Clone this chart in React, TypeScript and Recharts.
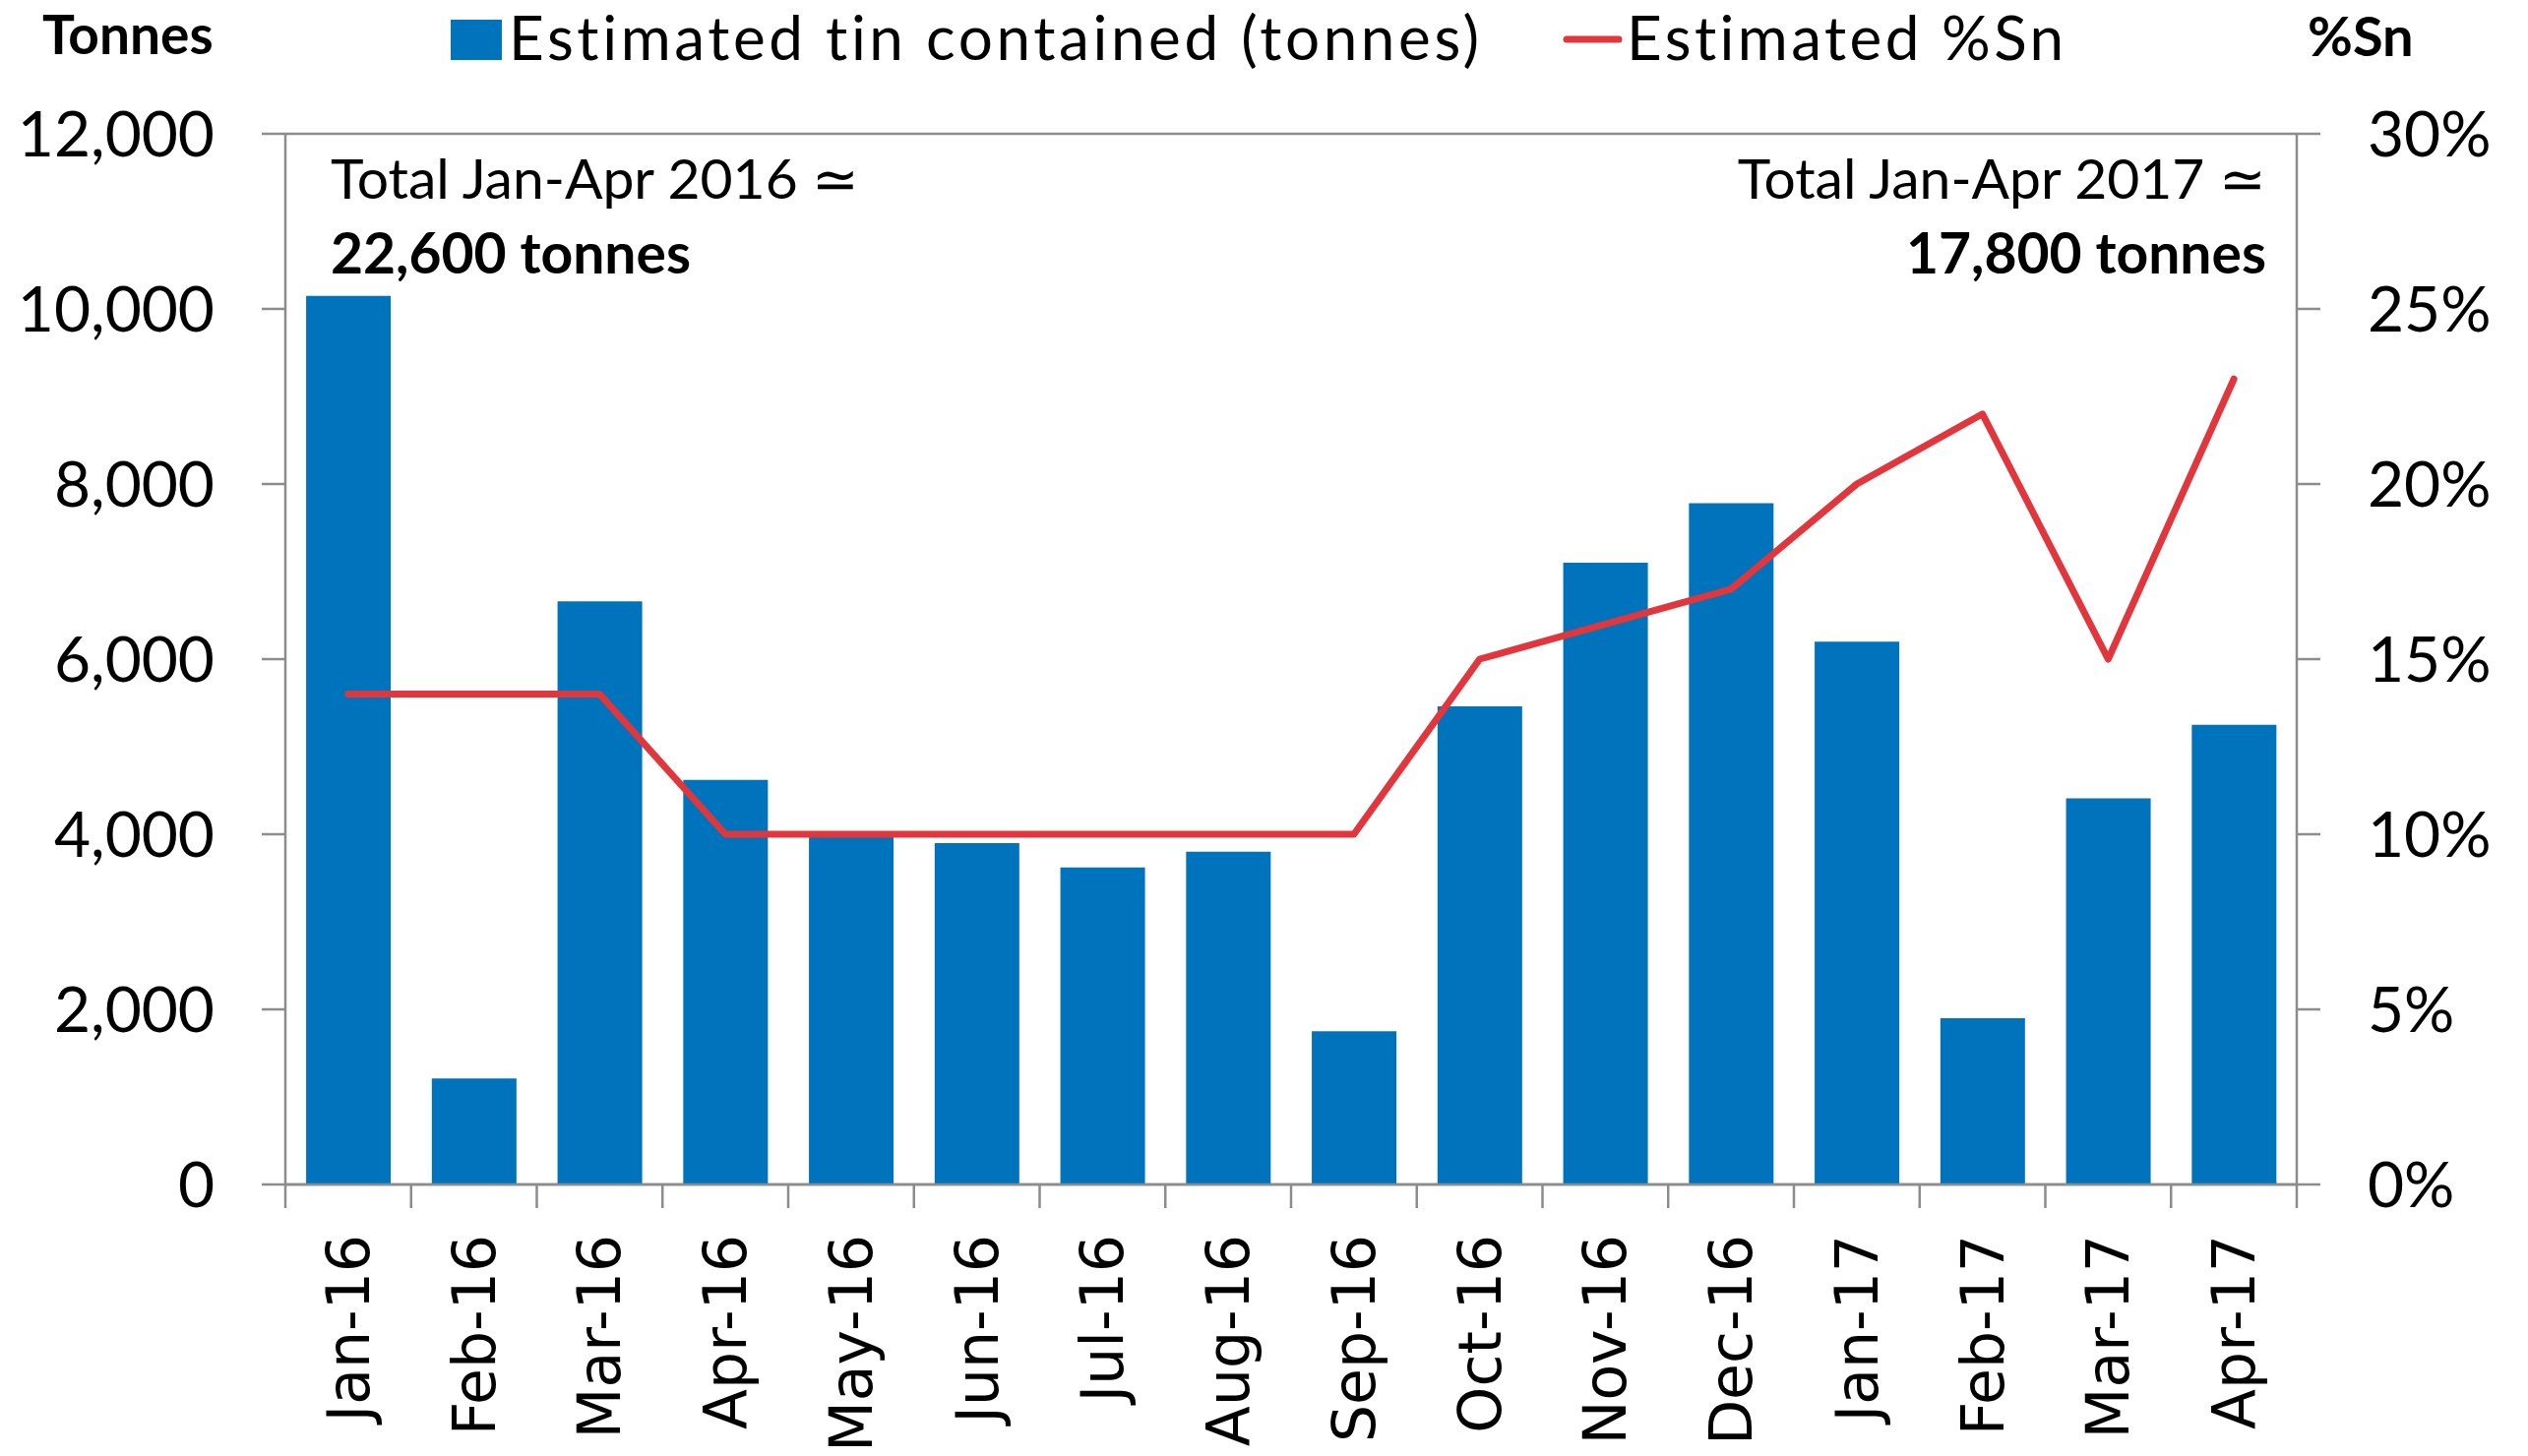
import React from 'react';
import { ComposedChart, Bar, Line, XAxis, YAxis, CartesianGrid } from 'recharts';

const months = ['Jan-16', 'Feb-16', 'Mar-16', 'Apr-16', 'May-16', 'Jun-16', 'Jul-16', 'Aug-16', 'Sep-16', 'Oct-16', 'Nov-16', 'Dec-16', 'Jan-17', 'Feb-17', 'Mar-17', 'Apr-17'];
const tinTonnes = [10150, 1210, 6660, 4620, 3990, 3900, 3620, 3800, 1750, 5460, 7100, 7780, 6200, 1900, 4410, 5250];
const snPercent = [14, 14, 14, 10, 10, 10, 10, 10, 10, 15, 16, 17, 20, 22, 15, 23];
const leftTicks = [0, 2000, 4000, 6000, 8000, 10000, 12000];
const rightTicks = [0, 5, 10, 15, 20, 25, 30];

const data = months.map((m, i) => ({ month: m, tin: tinTonnes[i], sn: snPercent[i] }));

const W = 2569;
const H = 1480;
const LEFT = 290;
const RIGHT = 235;
const TOP = 136;
const BOTTOM = 276;
const PLOT_W = W - LEFT - RIGHT;
const BAND = PLOT_W / months.length;

const BLUE = '#0073BD';
const RED = '#E0363C';
const GRID = '#8C8C8C';
const FONT = "Lato, 'Open Sans', sans-serif";

const XTick = (props: any) => {
  const { x, y, payload, index } = props;
  const half = BAND / 2;
  return (
    <g>
      <line x1={x - half} x2={x - half} y1={y} y2={y + 24} stroke={GRID} strokeWidth={2.5} />
      {index === months.length - 1 && (
        <line x1={x + half} x2={x + half} y1={y} y2={y + 24} stroke={GRID} strokeWidth={2.5} />
      )}
      <g transform={`translate(${x},${y + 51}) rotate(-90)`}>
        <text textAnchor="end" dominantBaseline="central" fontFamily="'DejaVu Sans', Verdana, sans-serif" fontSize={60} fill="#000">
          {payload.value}
        </text>
      </g>
    </g>
  );
};

export default function App() {
  return (
    <div style={{ position: 'absolute', left: 0, top: 0, width: W, height: H, background: '#fff' }}>
      <ComposedChart
        width={W}
        height={H}
        data={data}
        margin={{ top: TOP, right: 0, bottom: 0, left: 0 }}
        barCategoryGap="16.5%"
      >
        <CartesianGrid horizontal vertical={false} stroke={GRID} strokeWidth={2.5} />
        <XAxis
          dataKey="month"
          height={BOTTOM}
          interval={0}
          tickLine={false}
          tickSize={0}
          tickMargin={0}
          axisLine={{ stroke: GRID, strokeWidth: 2.5 }}
          tick={<XTick />}
        />
        <YAxis
          yAxisId="left"
          width={LEFT}
          domain={[0, 12000]}
          ticks={leftTicks}
          interval={0}
          tickSize={24}
          tickMargin={48}
          axisLine={{ stroke: GRID, strokeWidth: 2.5 }}
          tickLine={{ stroke: GRID, strokeWidth: 2.5 }}
          tickFormatter={(v: number) => v.toLocaleString('en-US')}
          tick={{ fontFamily: FONT, fontSize: 64, fill: '#000' }}
        />
        <YAxis
          yAxisId="right"
          orientation="right"
          width={RIGHT}
          domain={[0, 30]}
          ticks={rightTicks}
          interval={0}
          tickSize={24}
          tickMargin={48}
          axisLine={{ stroke: GRID, strokeWidth: 2.5 }}
          tickLine={{ stroke: GRID, strokeWidth: 2.5 }}
          tickFormatter={(v: number) => `${v}%`}
          tick={{ fontFamily: FONT, fontSize: 64, fill: '#000' }}
        />
        <Bar yAxisId="left" dataKey="tin" fill={BLUE} isAnimationActive={false} />
        <Line
          yAxisId="right"
          dataKey="sn"
          type="linear"
          stroke={RED}
          strokeWidth={7}
          dot={false}
          activeDot={false}
          strokeLinejoin="round"
          strokeLinecap="round"
          isAnimationActive={false}
        />
      </ComposedChart>
      <svg width={W} height={H} style={{ position: 'absolute', left: 0, top: 0, pointerEvents: 'none' }}>
        <text x={43} y={55} fontFamily={FONT} fontWeight="bold" fontSize={55} fill="#000">Tonnes</text>
        <rect x={458} y={20} width={52} height={41} fill={BLUE} />
        <text x={517} y={61} fontFamily={FONT} fontSize={62} letterSpacing={3.6} fill="#000">Estimated tin contained (tonnes)</text>
        <line x1={1592} x2={1645} y1={40} y2={40} stroke={RED} strokeWidth={7} strokeLinecap="round" />
        <text x={1653} y={61} fontFamily={FONT} fontSize={62} letterSpacing={3.4} fill="#000">Estimated %Sn</text>
        <text x={2345} y={57} fontFamily={FONT} fontWeight="bold" fontSize={56} fill="#000">%Sn</text>
        <text x={336} y={202} fontFamily={FONT} fontSize={57} fill="#000">Total Jan-Apr 2016 ≃</text>
        <text x={336} y={278} fontFamily={FONT} fontWeight="bold" fontSize={57} fill="#000">22,600 tonnes</text>
        <text x={2303} y={202} textAnchor="end" fontFamily={FONT} fontSize={57} fill="#000">Total Jan-Apr 2017 ≃</text>
        <text x={2303} y={278} textAnchor="end" fontFamily={FONT} fontWeight="bold" fontSize={57} fill="#000">17,800 tonnes</text>
      </svg>
    </div>
  );
}
